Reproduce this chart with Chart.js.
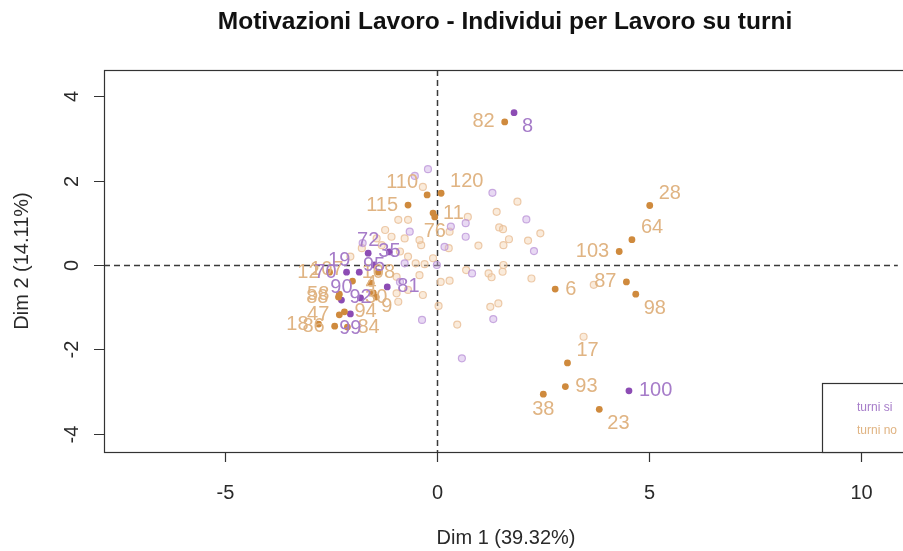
<!DOCTYPE html>
<html>
<head>
<meta charset="utf-8">
<script src="https://cdn.jsdelivr.net/npm/chart.js@4.4.0/dist/chart.umd.min.js"></script>
<style>
  body { margin: 0; background: #fff; }
  #wrap { width: 903px; height: 551px; }
</style>
</head>
<body>
<div id="wrap"><canvas id="chart" width="903" height="551"></canvas></div>
<script>
// individui con etichetta - turni si
const siLabels = ['8', '100', '72', '35', '19', '95', '70', '90', '92', '81', '99'];
const siX = [1.82, 4.53, -1.62, -1.12, -1.83, -1.48, -2.13, -2.25, -1.80, -1.17, -2.04];
const siY = [3.61, -2.98, 0.28, 0.31, -0.17, 0.00, -0.17, -0.83, -0.78, -0.52, -1.16];
// individui con etichetta - turni no
const noLabels = ['82', '28', '64', '103', '87', '98', '6', '17', '93', '38', '23', '110', '120', '115', '11', '76',
  '12', '107', '58', '88', '47', '18', '86', '4', '108', '30', '9', '94', '84'];
const noX = [1.60, 5.02, 4.60, 4.30, 4.47, 4.69, 2.79, 3.08, 3.03, 2.51, 3.83, -0.23, 0.10, -0.68, -0.09, -0.05,
  -2.53, -1.99, -2.30, -2.32, -2.30, -2.79, -2.41, -1.55, -1.38, -1.43, -1.50, -2.18, -2.11];
const noY = [3.39, 1.41, 0.60, 0.32, -0.40, -0.69, -0.57, -2.32, -2.88, -3.06, -3.42, 1.66, 1.70, 1.42, 1.23, 1.14,
  -0.17, -0.38, -0.69, -0.76, -1.18, -1.40, -1.45, -0.43, -0.17, -0.76, -0.66, -1.11, -1.47];

// individui senza etichetta (sfumati)
const siFadedX = [-0.21, -0.52, 1.31, 2.11, 0.33, 0.68, 0.68, 2.29, 0.18, 0.00, 0.83, 1.33, -0.35, 0.59, -0.64, -0.76, -0.87, -1.75];
const siFadedY = [2.27, 2.11, 1.71, 1.08, 0.91, 0.99, 0.67, 0.33, 0.43, 0.00, -0.20, -1.28, -1.30, -2.21, 0.79, 0.04, -0.40, 0.52];
const noFadedX = [-0.33, 1.90, 1.41, 0.73, 1.47, 1.56, 2.44, 1.70, 2.15, 0.98, 1.57, 0.28, -0.37, -0.09, 1.57, 0.69, 1.22, 1.29,
  1.55, 2.23, 0.09, 0.30, -0.33, 0.04, 1.26, 1.45, 0.48, -0.29, 0.30, 3.70, 3.46, -0.91, -0.68, -1.22, -0.41, -1.07, -1.77,
  -1.42, -0.76, -0.87, -0.68, -1.30, -2.04, -0.95, -0.50, -0.41, -0.68, -0.95, -0.91];
const noFadedY = [1.85, 1.50, 1.26, 1.14, 0.89, 0.85, 0.75, 0.61, 0.58, 0.46, 0.47, 0.40, 0.47, 0.16, 0.00, -0.12, -0.20, -0.29,
  -0.16, -0.32, -0.40, -0.37, -0.71, -0.97, -0.99, -0.91, -1.41, 0.02, 0.79, -0.47, -1.70, 1.07, 1.07, 0.83, 0.59, 0.67, 0.40,
  0.63, 0.63, 0.32, 0.20, 0.47, 0.20, -0.28, 0.04, -0.24, -0.59, -0.67, -0.87];

const xTicks = [-5, 0, 5, 10];
const yTicks = [-4, -2, 0, 2, 4];

// dove mettere l'etichetta rispetto al punto
const siPos = ['se', 'e', 'n', 'c', 'nw', 'c', 'w', 'n', 'c', 'e', 's'];
const noPos = ['w', 'ne', 'ne', 'w', 'w', 'se', 'e', 'ne', 'e', 's', 'se', 'nw', 'ne', 'w', 'e', 's',
  'w', 'nw', 'w', 'w', 'w', 'w', 'w', 'c', 'c', 'c', 'se', 'e', 'e'];

const FONT = '"Liberation Sans", Arial, sans-serif';
const PURPLE = '#8c4cb4', PURPLE_TXT = '#a67cc9';
const ORANGE = '#cf8a3d', ORANGE_TXT = '#e0b483';

const pts = (xs, ys) => xs.map((x, i) => ({ x: x, y: ys[i] }));

const rPlot = {
  id: 'rPlot',
  beforeDatasetsDraw(chart) {
    const { ctx, chartArea: a, scales: { x, y } } = chart;
    ctx.save();
    ctx.strokeStyle = '#3a3a3a';
    ctx.lineWidth = 1.5;
    ctx.setLineDash([6, 4]);
    const x0 = Math.round(x.getPixelForValue(0)) + 0.5;
    const y0 = Math.round(y.getPixelForValue(0)) + 0.5;
    ctx.beginPath();
    ctx.moveTo(x0, a.top); ctx.lineTo(x0, a.bottom);
    ctx.moveTo(a.left, y0); ctx.lineTo(a.right, y0);
    ctx.stroke();
    ctx.restore();
  },
  afterDatasetsDraw(chart) {
    const { ctx, scales: { x, y } } = chart;
    ctx.save();
    ctx.font = '20px ' + FONT;
    ctx.textAlign = 'center';
    ctx.textBaseline = 'middle';
    const put = (labels, xs, ys, pos, color) => {
      ctx.fillStyle = color;
      labels.forEach((lab, i) => {
        const px = x.getPixelForValue(xs[i]);
        const py = y.getPixelForValue(ys[i]);
        const hw = ctx.measureText(lab).width / 2;
        let dx = 0, dy = 0;
        switch (pos[i]) {
          case 'e': dx = hw + 10; break;
          case 'w': dx = -hw - 10; break;
          case 'n': dy = -13; break;
          case 's': dy = 15; break;
          case 'ne': dx = hw + 9; dy = -12; break;
          case 'nw': dx = -hw - 9; dy = -12; break;
          case 'se': dx = hw + 8; dy = 14; break;
          case 'sw': dx = -hw - 8; dy = 14; break;
        }
        ctx.fillText(lab, px + dx, py + dy);
      });
    };
    put(noLabels, noX, noY, noPos, ORANGE_TXT);
    put(siLabels, siX, siY, siPos, PURPLE_TXT);
    ctx.restore();
  },
  afterDraw(chart) {
    const { ctx, chartArea: a, scales: { x, y } } = chart;
    ctx.save();
    // riquadro
    ctx.strokeStyle = '#333';
    ctx.lineWidth = 1.2;
    ctx.setLineDash([]);
    ctx.strokeRect(a.left + 0.5, a.top + 0.5, a.right - a.left + 10, a.bottom - a.top);

    // assi
    ctx.fillStyle = '#2a2a2a';
    ctx.font = '20px ' + FONT;
    ctx.textAlign = 'center';
    ctx.textBaseline = 'middle';
    ctx.beginPath();
    xTicks.forEach(v => {
      const px = Math.round(x.getPixelForValue(v)) + 0.5;
      ctx.moveTo(px, a.bottom); ctx.lineTo(px, a.bottom + 10);
      ctx.fillText(String(v), px, a.bottom + 41);
    });
    yTicks.forEach(v => {
      const py = Math.round(y.getPixelForValue(v)) + 0.5;
      ctx.moveTo(a.left, py); ctx.lineTo(a.left - 10, py);
      ctx.save();
      ctx.translate(a.left - 32, py);
      ctx.rotate(-Math.PI / 2);
      ctx.fillText(String(v), 0, 0);
      ctx.restore();
    });
    ctx.stroke();

    // titoli degli assi
    ctx.font = '20px ' + FONT;
    ctx.fillText('Dim 1 (39.32%)', 506, 538);
    ctx.save();
    ctx.translate(22, (a.top + a.bottom) / 2);
    ctx.rotate(-Math.PI / 2);
    ctx.fillText('Dim 2 (14.11%)', 0, 0);
    ctx.restore();

    // titolo
    ctx.fillStyle = '#111';
    ctx.font = 'bold 24.5px ' + FONT;
    ctx.fillText('Motivazioni Lavoro - Individui per Lavoro su turni', 505, 22);

    // legenda
    ctx.strokeStyle = '#333';
    ctx.fillStyle = '#fff';
    ctx.fillRect(822, 383, 100, a.bottom - 383);
    ctx.strokeRect(822.5, 383.5, 100, a.bottom - 383);
    ctx.font = '12px ' + FONT;
    ctx.textAlign = 'left';
    ctx.fillStyle = PURPLE_TXT;
    ctx.fillText('turni si', 857, 408);
    ctx.fillStyle = ORANGE_TXT;
    ctx.fillText('turni no', 857, 431);
    ctx.restore();
  }
};

new Chart(document.getElementById('chart').getContext('2d'), {
  type: 'scatter',
  data: {
    datasets: [{
      label: 'turni si (sfumati)',
      data: pts(siFadedX, siFadedY),
      backgroundColor: 'rgba(205,170,228,0.45)',
      borderColor: 'rgba(185,145,215,0.75)',
      borderWidth: 1.2,
      pointRadius: 3.5
    }, {
      label: 'turni no (sfumati)',
      data: pts(noFadedX, noFadedY),
      backgroundColor: 'rgba(243,210,175,0.45)',
      borderColor: 'rgba(232,190,150,0.8)',
      borderWidth: 1.2,
      pointRadius: 3.5
    }, {
      label: 'turni no',
      data: pts(noX, noY),
      backgroundColor: ORANGE,
      borderColor: ORANGE,
      borderWidth: 0,
      pointRadius: 3.4
    }, {
      label: 'turni si',
      data: pts(siX, siY),
      backgroundColor: PURPLE,
      borderColor: PURPLE,
      borderWidth: 0,
      pointRadius: 3.4
    }]
  },
  options: {
    responsive: false,
    animation: false,
    layout: { padding: { left: 104, right: 0, top: 70, bottom: 99 } },
    scales: {
      x: { type: 'linear', min: -7.85, max: 10.87, display: false },
      y: { type: 'linear', min: -4.43, max: 4.62, display: false }
    },
    plugins: {
      legend: { display: false },
      tooltip: { enabled: false }
    }
  },
  plugins: [rPlot]
});
</script>
</body>
</html>
